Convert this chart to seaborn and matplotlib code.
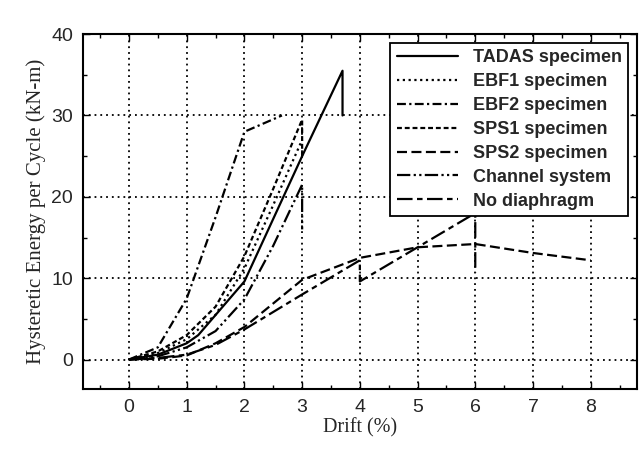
import matplotlib
matplotlib.use("Agg")
import matplotlib.pyplot as plt
import seaborn as sns
import pandas as pd

# Drift (%) and hysteretic energy per cycle (kN-m)
tadas_x = [0, 0.5, 1, 1.2, 2, 3, 3.7, 3.7]
tadas_y = [0, 0.6, 2.0, 3.0, 9.6, 25.0, 35.5, 30.0]

ebf1_x = [0, 0.5, 1, 1.5, 2, 2.5, 3]
ebf1_y = [0, 0.8, 2.5, 5.5, 11.2, 19.0, 27.0]

ebf2_x = [0, 0.5, 1, 1.5, 2, 2.65]
ebf2_y = [0, 1.5, 7.5, 17.5, 28.0, 30.0]

sps1_x = [0, 0.5, 1, 1.5, 2, 2.5, 3, 3]
sps1_y = [0, 1.0, 3.0, 6.5, 12.7, 21.0, 29.5, 25.0]

sps2_x = [0, 0.5, 1, 1.5, 2, 3, 4, 5, 6, 7, 8]
sps2_y = [0, 0.1, 0.5, 2.0, 4.0, 9.8, 12.5, 13.8, 14.2, 13.1, 12.2]

channel_x = [0, 0.5, 1, 1.5, 2, 2.5, 3, 3]
channel_y = [0, 0.4, 1.5, 3.5, 7.4, 14.0, 21.5, 16.0]

nodia_x = [0, 0.5, 1, 1.5, 2, 3, 4, 4, 5, 6, 6]
nodia_y = [0, 0.2, 0.6, 1.8, 3.7, 8.0, 12.2, 9.6, 13.8, 18.0, 10.7]

series = [
    ("TADAS specimen", tadas_x, tadas_y, "-"),
    ("EBF1 specimen", ebf1_x, ebf1_y, (0, (1, 1.6))),
    ("EBF2 specimen", ebf2_x, ebf2_y, (0, (4, 1.5, 1, 1.5))),
    ("SPS1 specimen", sps1_x, sps1_y, (0, (2.2, 1.3))),
    ("SPS2 specimen", sps2_x, sps2_y, (0, (4.5, 2))),
    ("Channel system", channel_x, channel_y, (0, (6, 1.5, 1, 1.5, 1, 1.5))),
    ("No diaphragm", nodia_x, nodia_y, (0, (7, 2, 2.5, 2))),
]

sns.set_style("ticks")
plt.rcParams['font.family'] = ['Liberation Sans', 'DejaVu Sans']

fig = plt.figure(figsize=(6.42, 4.49), dpi=100)
ax = fig.add_axes([0.129, 0.134, 0.863, 0.790])

for name, xs, ys, ls in series:
    df = pd.DataFrame({'drift': xs, 'energy': ys})
    sns.lineplot(data=df, x='drift', y='energy', sort=False, estimator=None,
                 color='black', linewidth=1.6, linestyle=ls, label=name, ax=ax)

ax.set_xlim(-0.8, 8.8)
ax.set_ylim(-3.6, 40)
ax.set_xticks(range(0, 9))
ax.set_yticks([0, 10, 20, 30, 40])
ax.set_xticks([i * 0.5 for i in range(-1, 18)], minor=True)
ax.set_yticks([5, 15, 25, 35], minor=True)
ax.tick_params(which='both', direction='in', top=True, right=True, color='black')
ax.tick_params(which='major', length=5, width=1, labelsize=14, pad=7)
ax.tick_params(which='minor', length=3, width=1)

ax.grid(True, which='major', color='black', linestyle=(0, (1, 2.2)), linewidth=1.3)
for sp in ax.spines.values():
    sp.set_color('black')
    sp.set_linewidth(1.5)

ax.set_xlabel('Drift (%)', family=['Liberation Serif'], fontsize=14.5, labelpad=2)
ax.set_ylabel('Hysteretic Energy per Cycle (kN-m)', family=['Liberation Serif'],
              fontsize=15, labelpad=4)

leg = ax.legend(loc='upper right', prop={'weight': 'bold', 'size': 13},
                frameon=True, fancybox=False, edgecolor='black', framealpha=1,
                handlelength=3.4, labelspacing=0.38, borderaxespad=0.5,
                handletextpad=0.8, borderpad=0.35)
leg.get_frame().set_linewidth(1.3)

fig.savefig('out.png', dpi=100)
